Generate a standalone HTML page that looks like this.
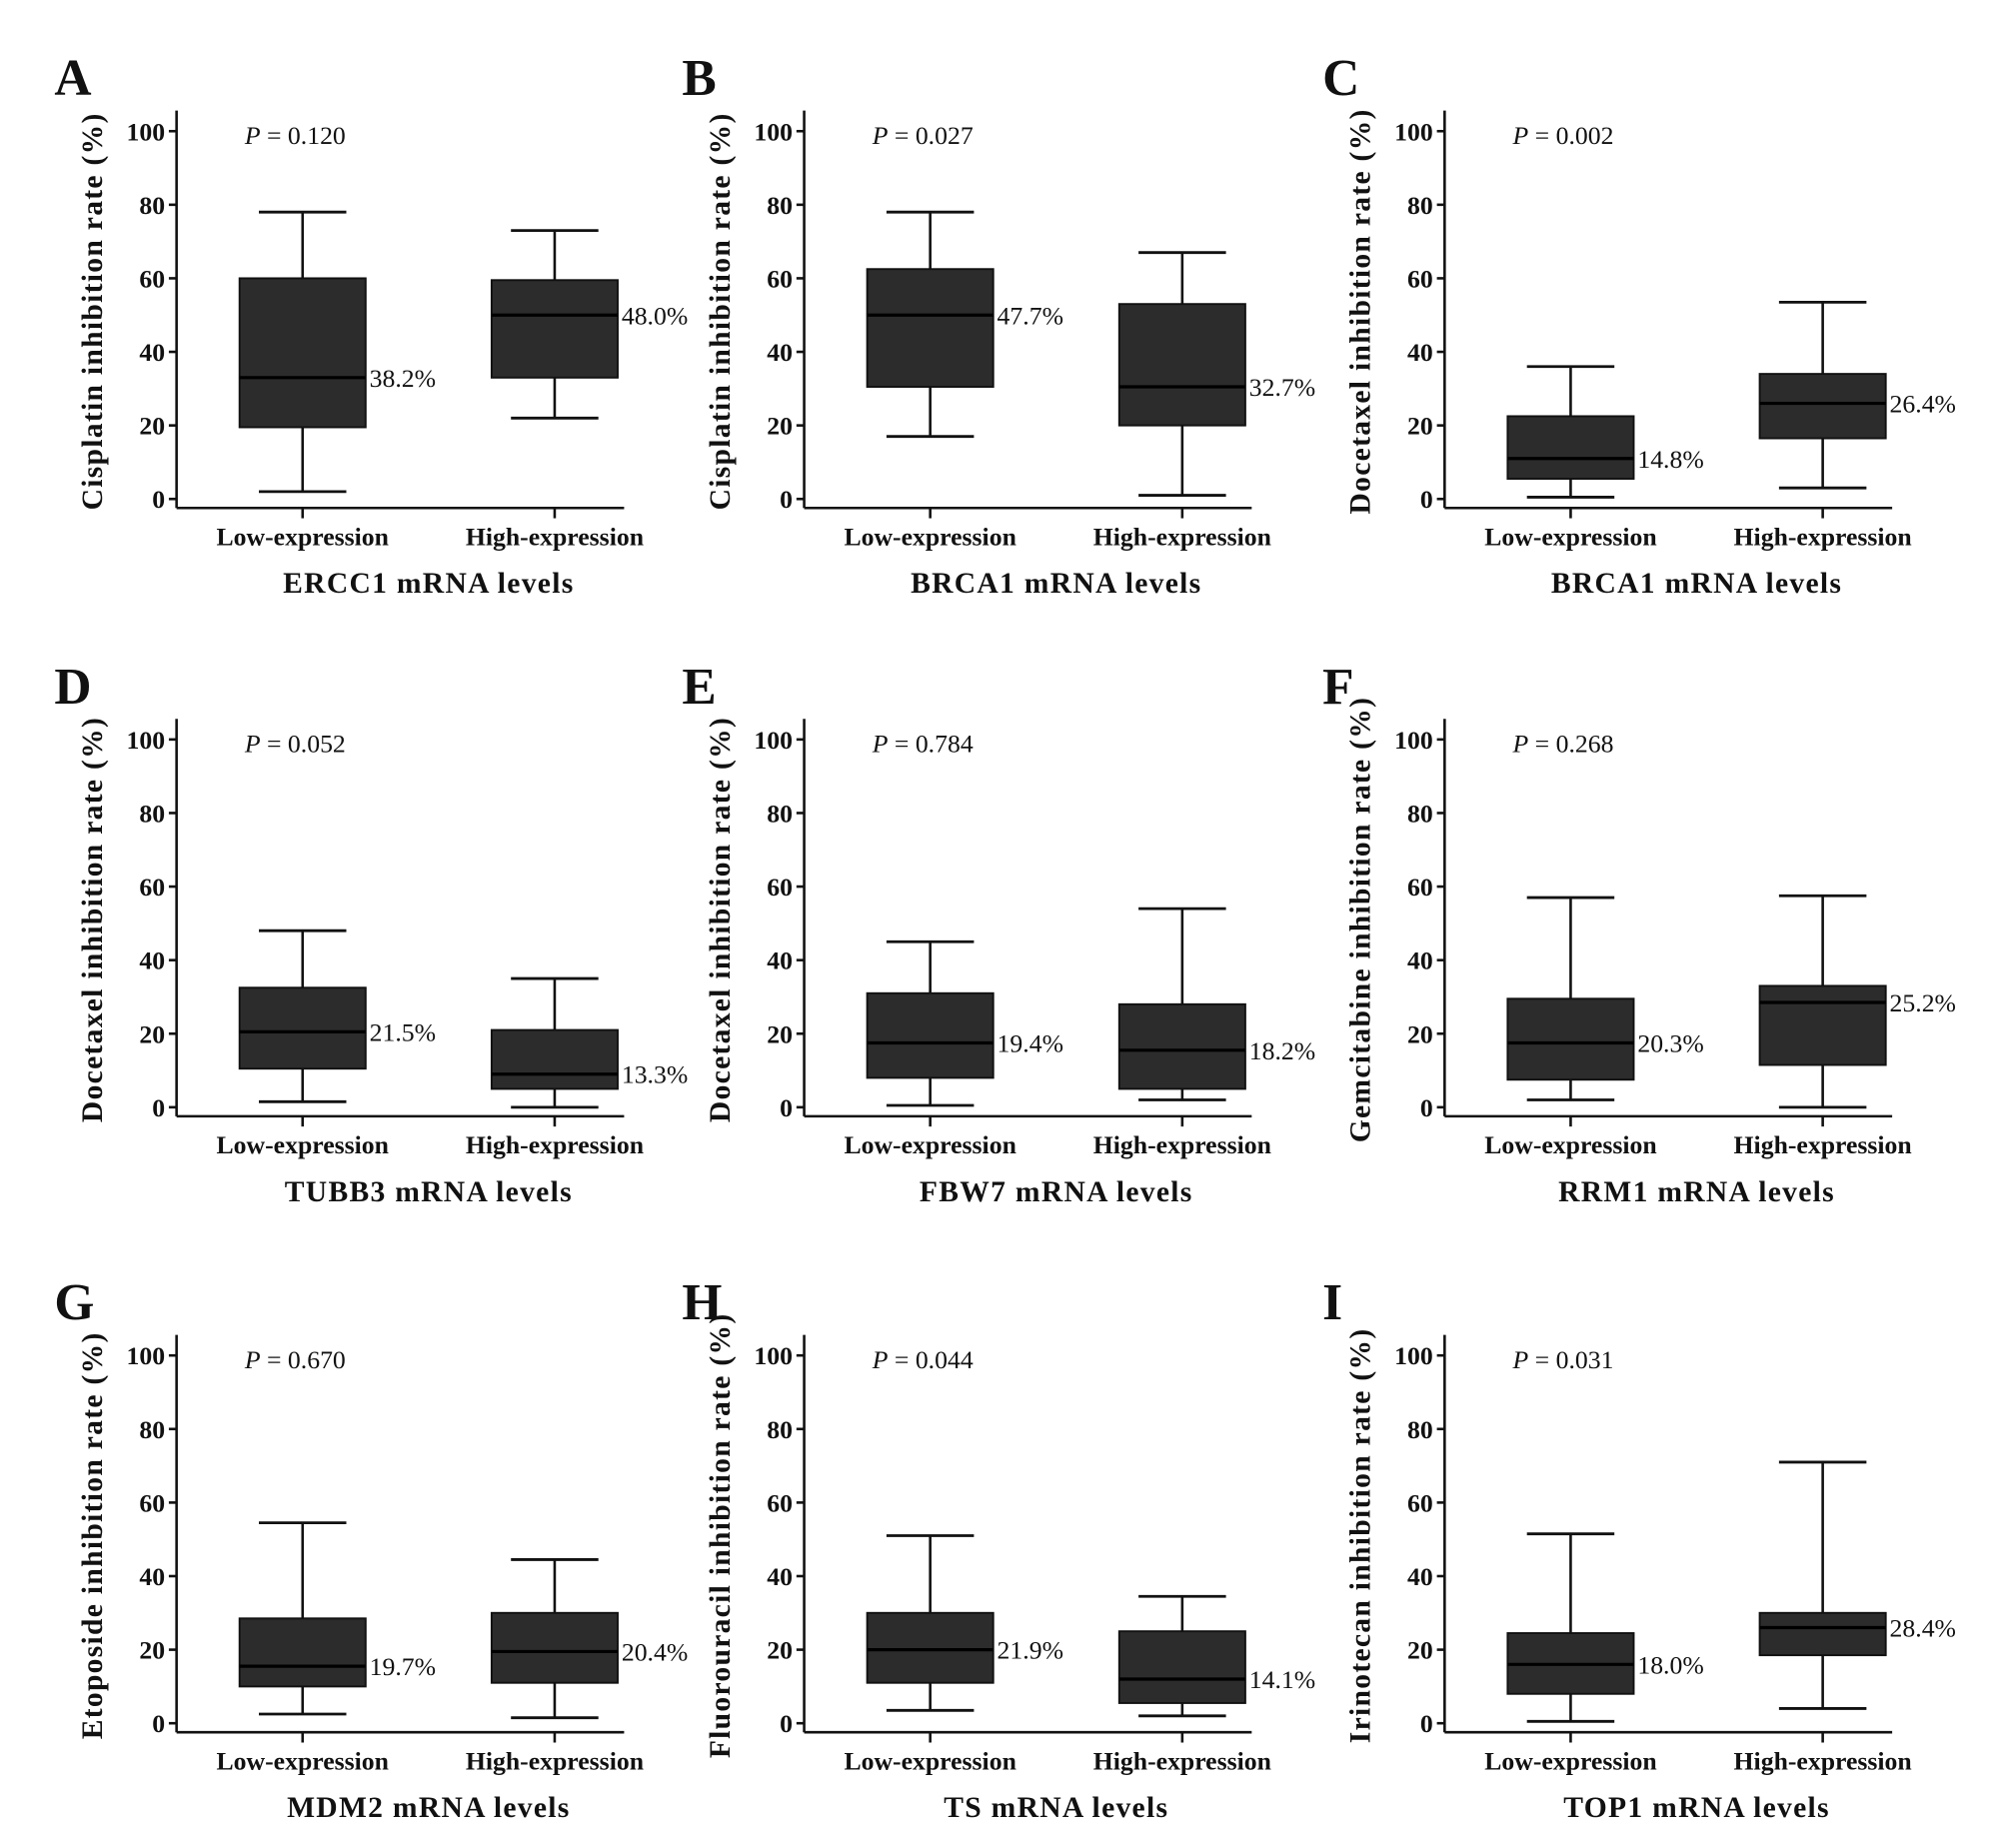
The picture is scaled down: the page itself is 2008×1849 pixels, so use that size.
<!DOCTYPE html>
<html><head><meta charset="utf-8"><style>
html,body{margin:0;padding:0;background:#fff}
svg{display:block}
text{font-family:"Liberation Serif",serif;fill:#111}
</style></head><body>
<svg id="fig" width="2008" height="1849" viewBox="0 0 1560 1437" xmlns="http://www.w3.org/2000/svg"></svg>
<script>
const panelLetters = ["A","B","C","D","E","F","G","H","I"];
const yTitles = ["Cisplatin inhibition rate (%)","Cisplatin  inhibition rate (%)","Docetaxel inhibition rate (%)","Docetaxel inhibition rate (%)","Docetaxel inhibition rate (%)","Gemcitabine inhibition rate (%)","Etoposide inhibition rate (%)","Fluorouracil  inhibition rate (%)","Irinotecan  inhibition rate (%)"];
const genes = ["ERCC1","BRCA1","BRCA1","TUBB3","FBW7","RRM1","MDM2","TS","TOP1"];
const pValues = ["0.120","0.027","0.002","0.052","0.784","0.268","0.670","0.044","0.031"];
const categories = ["Low-expression","High-expression"];
const yTicks = [0,20,40,60,80,100];
// [whiskerLow, q1, median, q3, whiskerHigh]
const lowStats = [[2,19.5,33,60,78],[17,30.5,50,62.5,78],[0.5,5.5,11,22.5,36],[1.5,10.5,20.5,32.5,48],[0.5,8,17.5,31,45],[2,7.5,17.5,29.5,57],[2.5,10,15.5,28.5,54.5],[3.5,11,20,30,51],[0.5,8,16,24.5,51.5]];
const highStats = [[22,33,50,59.5,73],[1,20,30.5,53,67],[3,16.5,26,34,53.5],[0,5,9,21,35],[2,5,15.5,28,54],[0,11.5,28.5,33,57.5],[1.5,11,19.5,30,44.5],[2,5.5,12,25,34.5],[4,18.5,26,30,71]];
const lowLabels = ["38.2%","47.7%","14.8%","21.5%","19.4%","20.3%","19.7%","21.9%","18.0%"];
const highLabels = ["48.0%","32.7%","26.4%","13.3%","18.2%","25.2%","20.4%","14.1%","28.4%"];

const svg = document.getElementById('fig');
const NS = "http://www.w3.org/2000/svg";
const colX = [137,625,1123];
const rowY = [388,861,1340];
function mk(tag, attrs, parent, txt){
  const e = document.createElementNS(NS, tag);
  for (const k in attrs) e.setAttribute(k, attrs[k]);
  if (txt !== undefined) e.textContent = txt;
  parent.appendChild(e); return e;
}
for (let i=0;i<9;i++){
  const ax = colX[i%3], y0 = rowY[Math.floor(i/3)];
  const yS = v => y0 - v*2.86;
  const xS = c => ax + 98 + c*196;
  const g = mk('g', {}, svg);
  
  
  const L = mk('text', {x: ax-95, y: y0-314, 'font-size': 40, 'font-weight': 'bold'}, g, panelLetters[i]);
  
  
  const yAxis = mk('line', {x1: ax, y1: y0-302, x2: ax, y2: y0+7, stroke: '#111', 'stroke-width': 2}, g);
  
  
  const xAxis = mk('line', {x1: ax, y1: y0+7, x2: ax+348, y2: y0+7, stroke: '#111', 'stroke-width': 2}, g);
  
  
  yTicks.forEach(t => {
    mk('line', {x1: ax-6, y1: yS(t), x2: ax, y2: yS(t), stroke: '#111', 'stroke-width': 2}, g);
    const tl = mk('text', {x: ax-9, y: yS(t)+7, 'font-size': 20, 'font-weight': 'bold', 'text-anchor': 'end'}, g, String(t));
    
    
  });
  const yt = mk('text', {x: 0, y: 0, 'font-size': 23, 'font-weight': 'bold', 'letter-spacing': 1, 'text-anchor': 'middle', transform: `translate(${ax-58},${y0-146}) rotate(-90)`}, g, yTitles[i]);
  
  
  const pt = mk('text', {x: ax+53, y: y0-276, 'font-size': 20}, g);
  mk('tspan', {'font-style': 'italic'}, pt, 'P');
  mk('tspan', {}, pt, ' = ' + pValues[i]);
  
  
  [lowStats[i], highStats[i]].forEach((s, c) => {
    const cx = xS(c);
    const bg = mk('g', {}, g);
    
    
    mk('line', {x1: cx, y1: yS(s[0]), x2: cx, y2: yS(s[4]), stroke: '#111', 'stroke-width': 2}, bg);
    mk('line', {x1: cx-34, y1: yS(s[0]), x2: cx+34, y2: yS(s[0]), stroke: '#111', 'stroke-width': 2.2}, bg);
    mk('line', {x1: cx-34, y1: yS(s[4]), x2: cx+34, y2: yS(s[4]), stroke: '#111', 'stroke-width': 2.2}, bg);
    mk('rect', {x: cx-49, y: yS(s[3]), width: 98, height: yS(s[1]) - yS(s[3]), fill: '#2c2c2c', stroke: '#111', 'stroke-width': 1.5}, bg);
    mk('line', {x1: cx-49, y1: yS(s[2]), x2: cx+49, y2: yS(s[2]), stroke: '#000', 'stroke-width': 2.5}, bg);
    const lab = mk('text', {x: cx+52, y: yS(s[2])+7, 'font-size': 20, fill: '#222'}, bg, c===0 ? lowLabels[i] : highLabels[i]);
    
    
    mk('line', {x1: cx, y1: y0+7, x2: cx, y2: y0+15, stroke: '#111', 'stroke-width': 2}, g);
    const cl = mk('text', {x: cx, y: y0+36, 'font-size': 20, 'font-weight': 'bold', 'text-anchor': 'middle'}, g, categories[c]);
    
    
  });
  const xt = mk('text', {x: ax+196, y: y0+73, 'font-size': 23, 'font-weight': 'bold', 'letter-spacing': 1, 'text-anchor': 'middle'}, g, genes[i] + ' mRNA levels');
  
  
}
</script>
</body></html>
